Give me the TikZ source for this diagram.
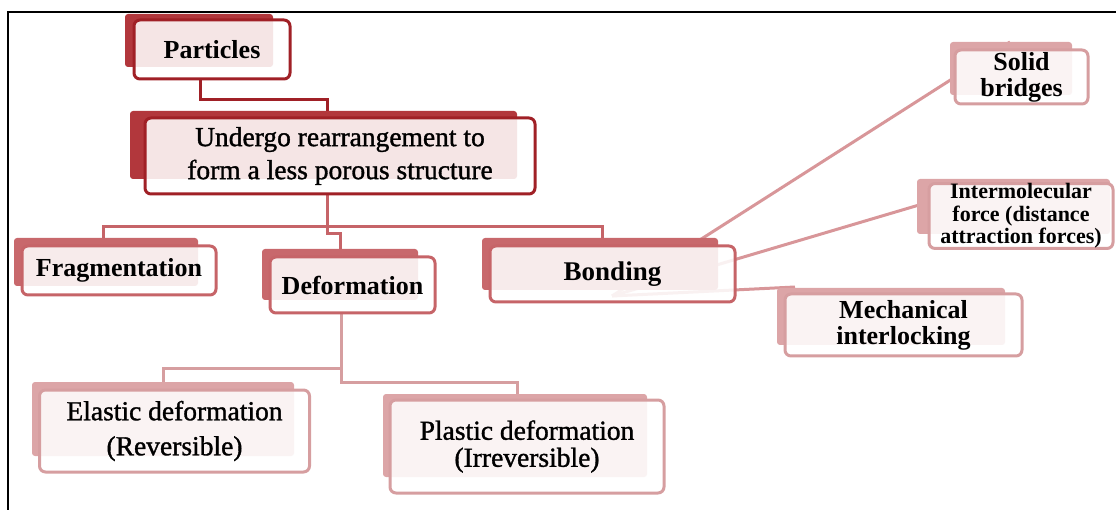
\documentclass[tikz,border=0pt]{standalone}
\usepackage{fontspec}
\setmainfont{Liberation Serif}
\newfontfamily\heavyreg[FakeBold=1.2]{Liberation Serif}
\definecolor{dkred}{RGB}{160,32,38}
\definecolor{dkshade}{RGB}{178,55,60}
\definecolor{mdred}{RGB}{198,100,104}
\definecolor{mdshade}{RGB}{200,104,108}
\definecolor{ltred}{RGB}{214,158,160}
\definecolor{ltshade}{RGB}{220,165,167}
\definecolor{ltline}{RGB}{216,150,153}
\tikzset{
  box/.style={draw, line width=3pt, rounded corners=6pt, fill=white,
    fill opacity=0.87, text opacity=1, draw opacity=1, align=center,
    inner sep=0pt, text=black},
  dkbox/.style={box, draw=dkred},
  mdbox/.style={box, draw=mdred},
  ltbox/.style={box, draw=ltred},
  shade/.style={rounded corners=3pt},
  conn/.style={line width=3pt, line join=miter},
  bigbold/.style={font=\fontsize{26}{27}\selectfont\bfseries},
  bigreg/.style={font=\heavyreg\fontsize{27.5}{33}\selectfont},
}
\begin{document}
\begin{tikzpicture}[x=1pt,y=-1pt]
\useasboundingbox (0,0) rectangle (1116,510);
% frame
\draw[line width=2.5pt,black] (8,510) -- (8,12) -- (1116,12);

% ---- connectors (behind boxes)
\coordinate (pbot) at (200,79);
\coordinate (utop) at (327,112);
\draw[conn, dkred] (pbot) -- (200,100) -- (327,100) -- (utop);

\coordinate (ubot) at (327,194);
\coordinate (ftop) at (103,238);
\coordinate (dtop) at (340,250);
\coordinate (btop) at (602,238);
\draw[conn, mdred] (ubot) -- (327,234) -- (340,234) -- (dtop);
\draw[conn, mdred] (ftop) -- (103,227) -- (602,227) -- (btop);

\coordinate (dbot) at (341,313);
\coordinate (etop) at (163,383);
\coordinate (ptop) at (517,395);
\draw[conn, ltred] (dbot) -- (341,382) -- (517,382) -- (ptop);
\draw[conn, ltred] (341,369) -- (163,369) -- (etop);

\coordinate (bhub) at (612,296);
\coordinate (shub) at (1010,42);
\coordinate (ihub) at (1000,181);
\coordinate (mhub) at (795,287);
\draw[conn, ltline] (bhub) -- (shub);
\draw[conn, ltline] (bhub) -- (ihub);
\draw[conn, ltline] (bhub) -- (mhub);

% ---- shadows
\fill[shade, dkshade] (125,14) rectangle (273,67);
\fill[shade, dkshade] (130,111) rectangle (517,179);
\fill[shade, mdshade] (14,238) rectangle (198,286);
\fill[shade, mdshade] (262,249) rectangle (418,300);
\fill[shade, mdshade] (482,238) rectangle (718,290);
\fill[shade, ltshade] (950,42) rectangle (1072,95);
\fill[shade, ltshade] (917,179) rectangle (1110,234);
\fill[shade, ltshade] (777,288) rectangle (1005,345);
\fill[shade, ltshade] (32,382) rectangle (294,456);
\fill[shade, ltshade] (383,394) rectangle (647,477);

% ---- boxes
\node[dkbox, bigbold, minimum width=156, minimum height=59] (particles) at (212,49.5) {Particles};
\node[dkbox, bigreg, minimum width=390, minimum height=76] (undergo) at (340,156) {Undergo rearrangement to\\form a less porous structure};
\node[mdbox, bigbold, minimum width=194, minimum height=49] (frag) at (119,270.5) {Fragmentation};
\node[mdbox, bigbold, minimum width=165, minimum height=56] (deform) at (352.5,285) {Deformation};
\node[mdbox, font=\fontsize{27}{27}\selectfont\bfseries, minimum width=245, minimum height=56] (bond) at (612.5,274) {Bonding};
\node[ltbox, font=\fontsize{26}{26}\selectfont\bfseries, minimum width=133, minimum height=54] (solid) at (1021.5,77) {Solid\\bridges};
\node[ltbox, font=\fontsize{22}{22.5}\selectfont\bfseries, minimum width=184, minimum height=60] (inter) at (1021,216) {Intermolecular\\force (distance\\attraction forces)};
\node[ltbox, font=\fontsize{26}{26}\selectfont\bfseries, minimum width=237, minimum height=62] (mech) at (903.5,325) {Mechanical\\interlocking};
\node[ltbox, font=\heavyreg\fontsize{27.5}{35}\selectfont, minimum width=270, minimum height=82] (elastic) at (174.5,431) {Elastic deformation\\(Reversible)};
\node[ltbox, font=\heavyreg\fontsize{27.5}{27}\selectfont, minimum width=274, minimum height=93] (plastic) at (527,446.5) {Plastic deformation\\(Irreversible)};
\end{tikzpicture}
\end{document}
